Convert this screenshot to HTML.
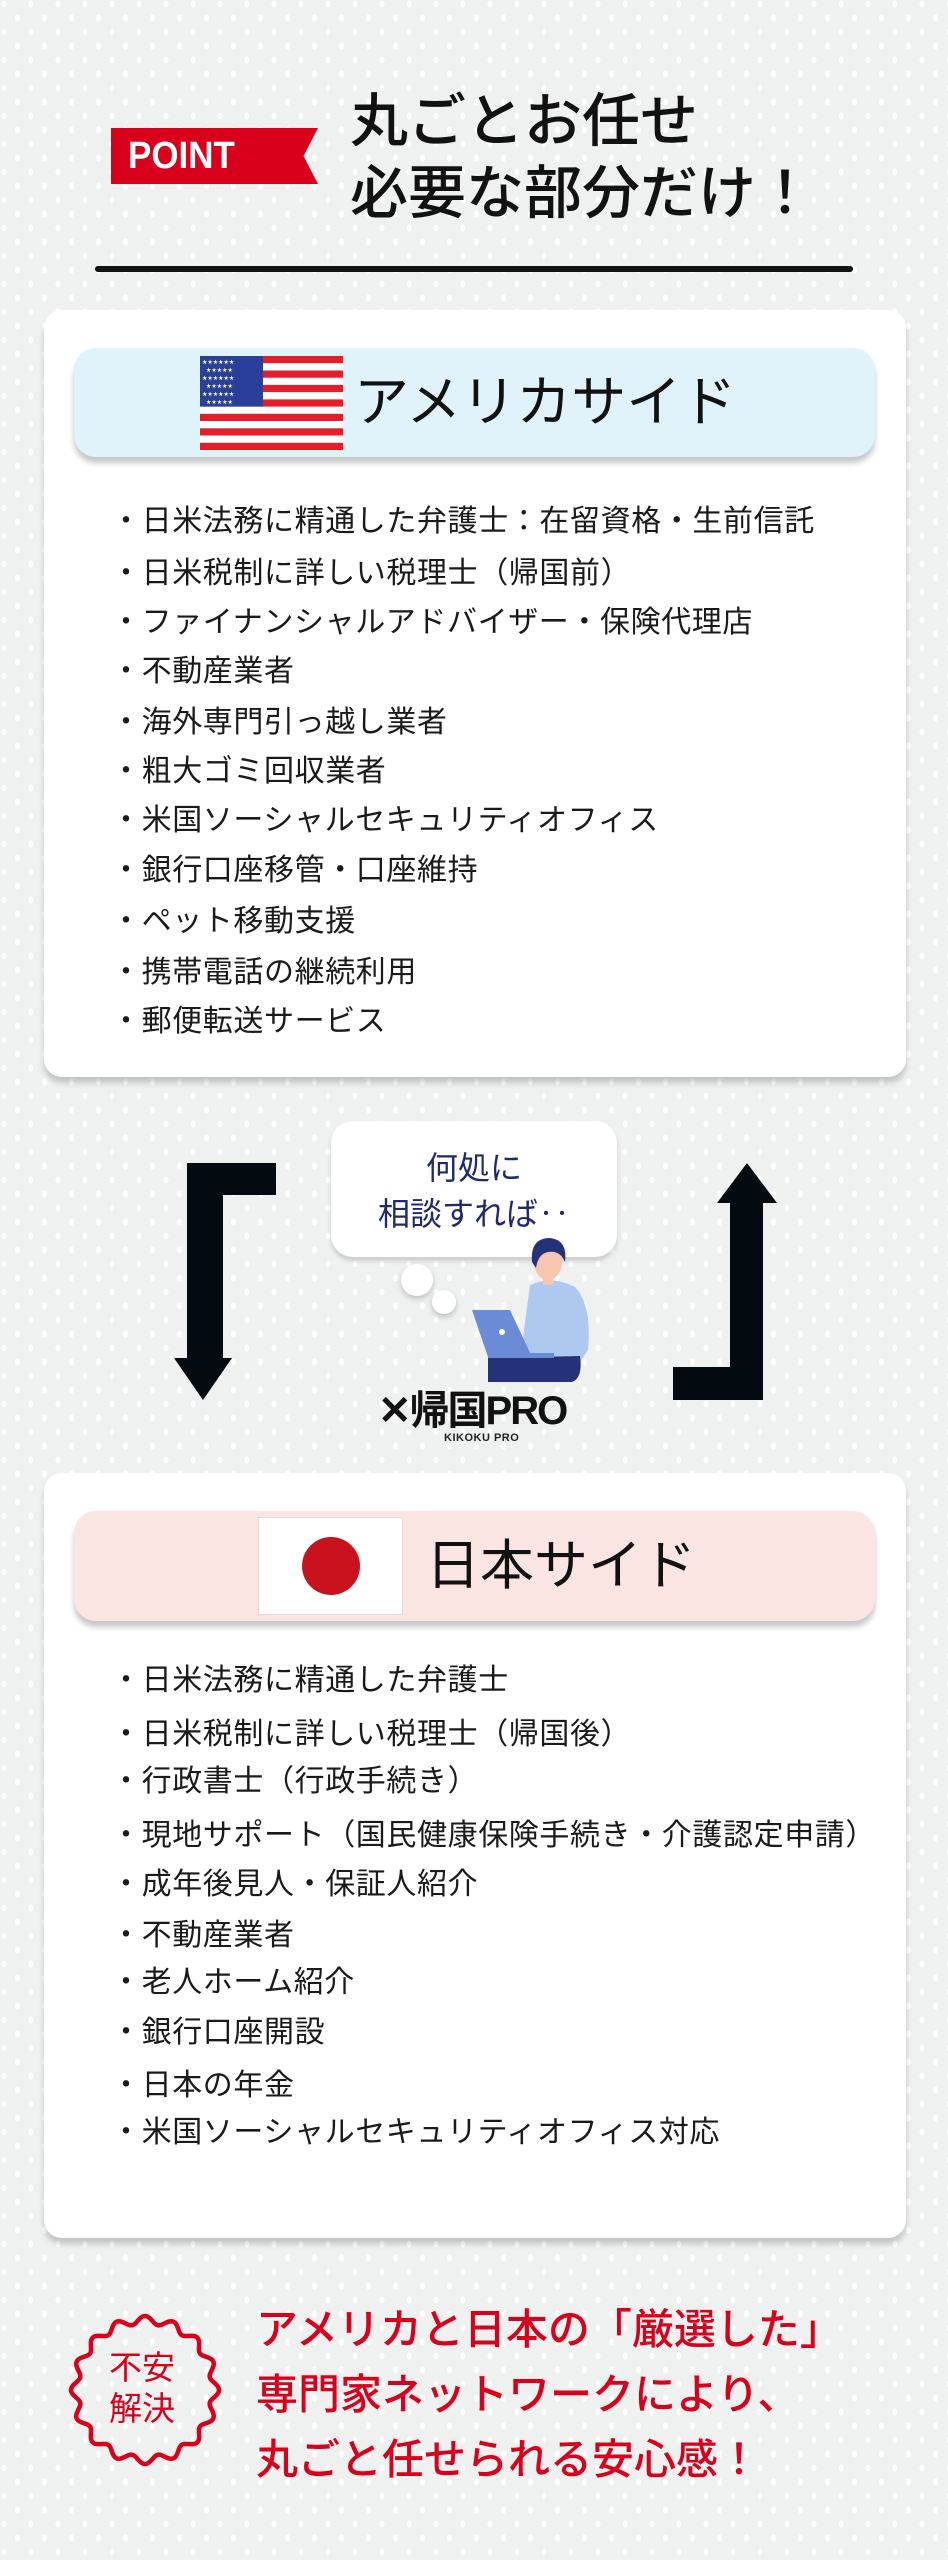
<!DOCTYPE html>
<html><head><meta charset="utf-8"><style>
*{margin:0;padding:0;box-sizing:border-box}
body{width:948px;height:2560px;position:relative;overflow:hidden;font-family:"Liberation Sans","Noto Sans CJK JP",sans-serif;
background-color:#eff1f0;
background-image:radial-gradient(ellipse 2.5px 3.5px,#fff 90%,transparent 100%),radial-gradient(ellipse 2.5px 3.5px,#fff 90%,transparent 100%);
background-size:27px 28px,27px 28px;background-position:4px 4px,17.5px 18px;}
.a{position:absolute}
.t{white-space:nowrap}
.card{position:absolute;left:44px;width:862px;background:#fff;border-radius:18px;box-shadow:0 6px 6px rgba(0,0,0,.18)}
.hd{position:absolute;left:74px;width:801px;border-radius:22px;box-shadow:0 6px 6px rgba(0,0,0,.22)}
.it{position:absolute;left:111px;font-size:30px;color:#1a1a1a;white-space:nowrap;line-height:40px;letter-spacing:0.6px}
</style></head><body>

<!-- header -->
<div class="a" style="left:111px;top:128px;width:207px;height:56px;background:#d9001b;clip-path:polygon(0 0,100% 0,93% 50%,100% 100%,0 100%)"></div>
<div class="a t" style="left:128px;top:128px;height:56px;line-height:56px;color:#fff;font-weight:bold;font-size:38px;transform:scaleX(0.92);transform-origin:left">POINT</div>
<div class="a t" style="left:350px;top:86px;font-size:58px;line-height:72px;color:#111;font-weight:500">丸ごとお任せ<br>必要な部分だけ！</div>
<div class="a" style="left:95px;top:266px;width:758px;height:6px;background:#111;border-radius:3px"></div>

<!-- US card -->
<div class="card" style="top:310px;height:767px"></div>
<div class="hd" style="top:348px;height:109px;background:#e0f3fb"></div>
<svg class="a" style="left:200px;top:356px" width="143" height="94" viewBox="0 0 143 94">
<rect width="143" height="94" fill="#fff"/>
<g fill="#e31d2a">
<rect y="0" width="143" height="7.2"/><rect y="14.5" width="143" height="7.2"/><rect y="28.9" width="143" height="7.2"/><rect y="43.4" width="143" height="7.2"/><rect y="57.8" width="143" height="7.2"/><rect y="72.3" width="143" height="7.2"/><rect y="86.8" width="143" height="7.2"/></g>
<rect width="63" height="50.6" fill="#2a3f9a"/>
<g fill="#fff" font-size="6" font-family="DejaVu Sans">
<text x="2" y="8">★★★★★★</text><text x="6" y="16">★★★★★</text><text x="2" y="24">★★★★★★</text><text x="6" y="32">★★★★★</text><text x="2" y="40">★★★★★★</text><text x="6" y="48">★★★★★</text></g>
</svg>
<div class="a t" style="left:354px;top:370px;font-size:55px;line-height:64px;color:#111">アメリカサイド</div>

<div class="it" style="top:502px">・日米法務に精通した弁護士：在留資格・生前信託</div>
<div class="it" style="top:554px">・日米税制に詳しい税理士（帰国前）</div>
<div class="it" style="top:603px">・ファイナンシャルアドバイザー・保険代理店</div>
<div class="it" style="top:652px">・不動産業者</div>
<div class="it" style="top:703px">・海外専門引っ越し業者</div>
<div class="it" style="top:752px">・粗大ゴミ回収業者</div>
<div class="it" style="top:801px">・米国ソーシャルセキュリティオフィス</div>
<div class="it" style="top:851px">・銀行口座移管・口座維持</div>
<div class="it" style="top:902px">・ペット移動支援</div>
<div class="it" style="top:953px">・携帯電話の継続利用</div>
<div class="it" style="top:1002px">・郵便転送サービス</div>

<!-- middle -->
<div class="a" style="left:331px;top:1121px;width:286px;height:136px;background:#fff;border-radius:22px;box-shadow:0 4px 5px rgba(0,0,0,.15)"></div>
<div class="a t" style="left:331px;top:1145px;width:286px;text-align:center;font-size:32px;line-height:46px;color:#1f2a6b">何処に<br>相談すれば‥</div>
<svg class="a" style="left:0;top:1150px" width="948" height="300" viewBox="0 1150 948 300">
<path d="M187 1163 H276 V1195 H223 V1358 H232 L203 1400 L174 1358 H187 Z" fill="#030b10"/>
<path d="M747 1163 L777 1203 H763 V1400 H673 V1367 H730 V1203 H717 Z" fill="#030b10"/>
<circle cx="417" cy="1280" r="16" fill="#fff" style="filter:drop-shadow(0 3px 3px rgba(0,0,0,.2))"/>
<circle cx="444" cy="1302" r="12" fill="#fff" style="filter:drop-shadow(0 3px 3px rgba(0,0,0,.2))"/>
<!-- person -->
<path d="M530 1285 Q552 1275 575 1287 Q592 1305 588 1350 L580 1362 L520 1360 Z" fill="#aec8f0"/>
<path d="M488 1358 L580 1356 Q583 1378 572 1382 L488 1382 Z" fill="#25327a"/>
<path d="M472 1310 L510 1310 L532 1357 L488 1357 Z" fill="#6b8bd6"/>
<rect x="488" y="1353" width="66" height="5" fill="#6b8bd6"/>
<circle cx="502" cy="1332" r="3" fill="#fff"/>
<ellipse cx="548" cy="1262" rx="14" ry="18" fill="#f7c5b0"/>
<rect x="543" y="1275" width="10" height="10" fill="#f7c5b0"/>
<path d="M532 1262 Q530 1238 550 1238 Q568 1240 565 1262 Q560 1250 548 1252 Q538 1254 536 1268 Z" fill="#25327a"/>
</svg>
<div class="a t" style="left:378px;top:1389px;font-size:40px;line-height:44px;font-weight:bold;color:#111;letter-spacing:-2px">✕帰国PRO</div>
<div class="a t" style="left:444px;top:1432px;font-size:11px;line-height:13px;font-weight:bold;color:#222;letter-spacing:0.5px">KIKOKU PRO</div>

<!-- Japan card -->
<div class="card" style="top:1473px;height:765px"></div>
<div class="hd" style="top:1511px;height:110px;background:#fbe5e3"></div>
<div class="a" style="left:258px;top:1517px;width:145px;height:98px;background:#fff;border:1px solid #ddd"></div>
<div class="a" style="left:302px;top:1537px;width:58px;height:58px;border-radius:50%;background:#c9121d"></div>
<div class="a t" style="left:426px;top:1534px;font-size:54px;line-height:64px;color:#111">日本サイド</div>

<div class="it" style="top:1661px">・日米法務に精通した弁護士</div>
<div class="it" style="top:1715px">・日米税制に詳しい税理士（帰国後）</div>
<div class="it" style="top:1762px">・行政書士（行政手続き）</div>
<div class="it" style="top:1816px">・現地サポート（国民健康保険手続き・介護認定申請）</div>
<div class="it" style="top:1865px">・成年後見人・保証人紹介</div>
<div class="it" style="top:1916px">・不動産業者</div>
<div class="it" style="top:1963px">・老人ホーム紹介</div>
<div class="it" style="top:2013px">・銀行口座開設</div>
<div class="it" style="top:2066px">・日本の年金</div>
<div class="it" style="top:2113px">・米国ソーシャルセキュリティオフィス対応</div>

<!-- bottom -->
<svg class="a" style="left:60px;top:2305px" width="170" height="170" viewBox="-85 -85 170 170">
<path id="w" fill="none" stroke="#d9001b" stroke-width="4.5" d=""/>
</svg>
<script>
(function(){var p='';for(var i=0;i<=360;i++){var a=i*Math.PI/180;var r=70+4*Math.cos(a*16);p+=(i?'L':'M')+(r*Math.cos(a)).toFixed(2)+' '+(r*Math.sin(a)).toFixed(2);}document.getElementById('w').setAttribute('d',p+'Z');})();
</script>
<div class="a t" style="left:108px;top:2347px;font-size:33px;line-height:41px;color:#d9001b;text-align:center;width:68px">不安<br>解決</div>
<div class="a t" style="left:256px;top:2297px;font-size:42px;line-height:65px;color:#d9001b;font-weight:500">アメリカと日本の「厳選した」<br>専門家ネットワークにより、<br>丸ごと任せられる安心感！</div>
</body></html>
